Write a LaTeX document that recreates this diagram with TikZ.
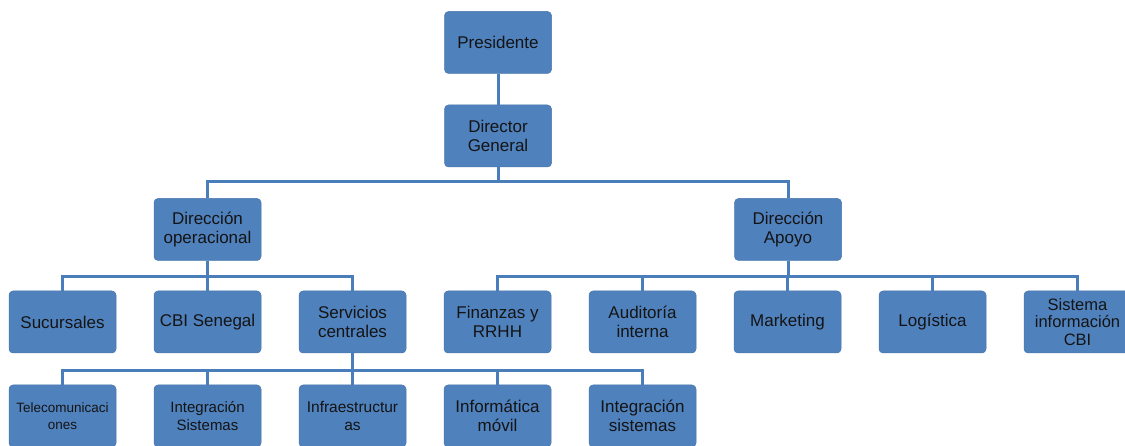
\documentclass[tikz,border=0pt]{standalone}
\usepackage{fontspec}
\setmainfont{Liberation Sans}
\definecolor{boxfill}{HTML}{4F81BD}
\definecolor{boxline}{HTML}{4877AE}
\definecolor{connline}{HTML}{4A7EBB}
\definecolor{txt}{HTML}{141414}
\begin{document}
\begin{tikzpicture}[x=1pt,y=-1pt,
  orgbox/.style={draw=boxline, line width=0.5pt, fill=boxfill, rounded corners=4pt,
    minimum width=107pt, minimum height=62pt, inner sep=0pt, align=center,
    text=txt, font=\fontsize{17}{18.5}\selectfont},
  conn/.style={draw=connline, line width=3pt}]
\clip (0,0) rectangle (1125,446);
\fill[white] (0,0) rectangle (1125,446);
% level 1-2
\node[orgbox] (pres) at (498,42.5) {Presidente};
\node[orgbox] (dg) at (498,136) {Director\\General};
% level 3
\node[orgbox] (dop) at (207.5,229.5) {Dirección\\operacional};
\node[orgbox] (dap) at (788,229.5) {Dirección\\Apoyo};
% level 4
\node[orgbox] (suc) at (62.5,322) {Sucursales};
\node[orgbox] (cbi) at (207.5,322) {CBI Senegal};
\node[orgbox] (serv) at (352.5,322) {Servicios\\centrales};
\node[orgbox] (fin) at (497.5,322) {Finanzas y\\RRHH};
\node[orgbox] (aud) at (642.5,322) {Auditoría\\interna};
\node[orgbox] (mkt) at (787.5,322) {Marketing};
\node[orgbox] (log) at (932.5,322) {Logística};
\node[orgbox, font=\fontsize{16.5}{17.5}\selectfont] (sis) at (1077.5,322) {Sistema\\información\\CBI};
% level 5
\node[orgbox, font=\fontsize{13.5}{17}\selectfont] (tel) at (62.5,416) {Telecomunicaci\\ones};
\node[orgbox, font=\fontsize{15}{18}\selectfont] (ints) at (207.5,416) {Integración\\Sistemas};
\node[orgbox, font=\fontsize{15.5}{18}\selectfont] (inf) at (352.5,416) {Infraestructur\\as};
\node[orgbox] (imov) at (497.5,416) {Informática\\móvil};
\node[orgbox] (isis) at (642.5,416) {Integración\\sistemas};
% bar levels
\coordinate (b1) at (0,182);
\coordinate (b2) at (0,277);
\coordinate (b3) at (0,370.5);
% connectors
\draw[conn] (pres.south) -- (dg.north);
\draw[conn] (dg.south) -- (dg.south |- b1) -| (dop.north);
\draw[conn] (dg.south |- b1) -| (dap.north);
\draw[conn] (dop.south) -- (dop.south |- b2) -| (suc.north);
\draw[conn] (dop.south |- b2) -| (serv.north);
\draw[conn] (dop.south |- b2) -- (cbi.north);
\draw[conn] (dap.south) -- (dap.south |- b2) -| (fin.north);
\draw[conn] (dap.south |- b2) -| (sis.north);
\draw[conn] (aud.north |- b2) -- (aud.north);
\draw[conn] (mkt.north |- b2) -- (mkt.north);
\draw[conn] (log.north |- b2) -- (log.north);
\draw[conn] (serv.south) -- (serv.south |- b3) -| (tel.north);
\draw[conn] (serv.south |- b3) -| (isis.north);
\draw[conn] (ints.north |- b3) -- (ints.north);
\draw[conn] (inf.north |- b3) -- (inf.north);
\draw[conn] (imov.north |- b3) -- (imov.north);
\end{tikzpicture}
\end{document}
